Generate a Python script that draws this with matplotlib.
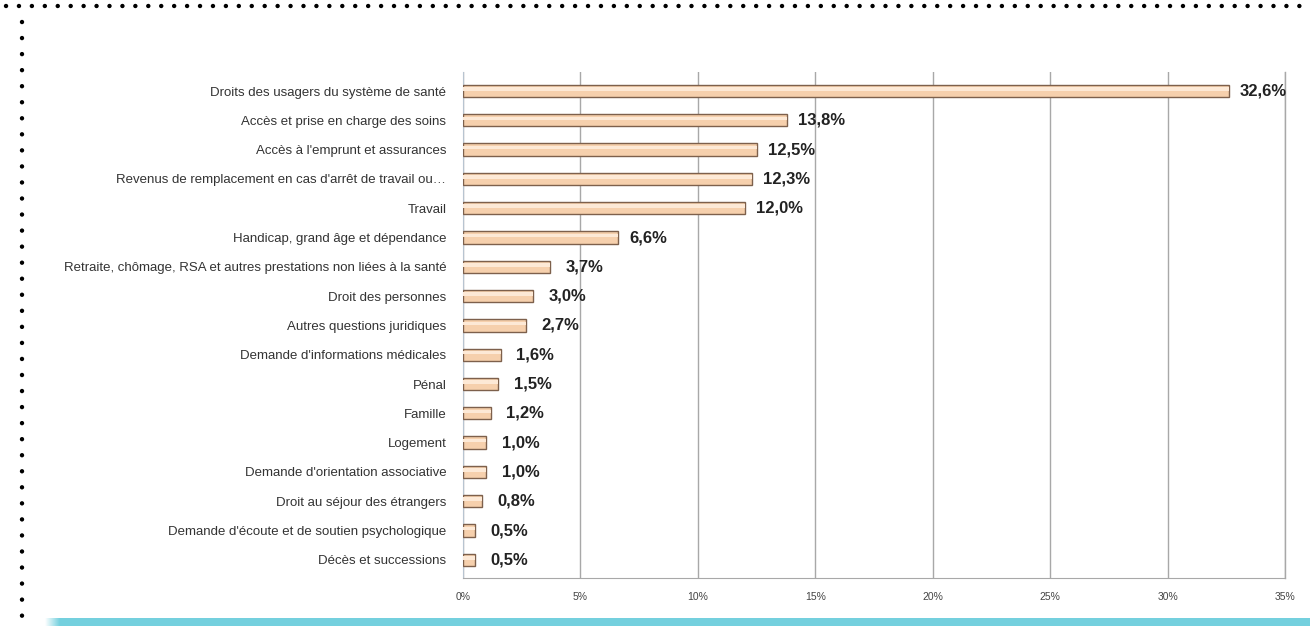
import numpy as np
import matplotlib.pyplot as plt
from matplotlib.lines import Line2D
from matplotlib.patches import Rectangle

# Données
categories = [
    "Droits des usagers du système de santé",
    "Accès et prise en charge des soins",
    "Accès à l'emprunt et assurances",
    "Revenus de remplacement en cas d'arrêt de travail ou…",
    "Travail",
    "Handicap, grand âge et dépendance",
    "Retraite, chômage, RSA et autres prestations non liées à la santé",
    "Droit des personnes",
    "Autres questions juridiques",
    "Demande d'informations médicales",
    "Pénal",
    "Famille",
    "Logement",
    "Demande d'orientation associative",
    "Droit au séjour des étrangers",
    "Demande d'écoute et de soutien psychologique",
    "Décès et successions",
]
valeurs = [32.6, 13.8, 12.5, 12.3, 12.0, 6.6, 3.7, 3.0, 2.7, 1.6, 1.5, 1.2, 1.0, 1.0, 0.8, 0.5, 0.5]
ticks = [0, 5, 10, 15, 20, 25, 30, 35]
tick_labels = ["0%", "5%", "10%", "15%", "20%", "25%", "30%", "35%"]

fig = plt.figure(figsize=(13.1, 6.26), dpi=100)
ax = fig.add_axes([463 / 1310, 1 - 578 / 626, (1285 - 463) / 1310, (578 - 72) / 626])

y = np.arange(len(categories))
# barre principale + reflet clair pour l'effet 3D
ax.barh(y, valeurs, height=0.42, color="#f6d0ad", edgecolor="#7d604c", linewidth=1.0, zorder=3)
ax.barh(y - 0.07, valeurs, height=0.12, color="#fde9d6", linewidth=0, zorder=4)

for yi, v in zip(y, valeurs):
    ax.annotate(f"{v:.1f}%".replace(".", ","), (v, yi), xytext=(8 if v > 5 else 11, 0),
                textcoords="offset points", va="center", ha="left",
                fontsize=12, fontweight="bold", color="#222222", family="Liberation Sans", zorder=5)

ax.set_xlim(0, 35)
ax.set_ylim(len(categories) - 0.38, -0.65)
ax.set_xticks(ticks)
ax.set_xticklabels(tick_labels, fontsize=7.5, color="#444444", family="Liberation Sans")
ax.set_yticks(y)
ax.set_yticklabels(categories, fontsize=9.5, color="#333333", family="Liberation Sans")
ax.tick_params(axis="x", length=0, pad=10)
ax.tick_params(axis="y", length=0, pad=12)
ax.xaxis.grid(True, color="#a8a8a8", linewidth=1.0, zorder=0)
ax.axvline(35, color="#a8a8a8", linewidth=1.0, clip_on=False, zorder=0)
ax.set_axisbelow(True)
for s in ["top", "right"]:
    ax.spines[s].set_visible(False)
ax.spines["left"].set_color("#b8c4d0")
ax.spines["bottom"].set_color("#a8a8a8")

# cadre pointillé
fig.add_artist(Line2D([6 / 1310, 1], [1 - 6 / 626, 1 - 6 / 626], color="black", linewidth=3.2,
                      linestyle=(0, (0.01, 2.9)), dash_capstyle="round"))
fig.add_artist(Line2D([22 / 1310, 22 / 1310], [1 - 22 / 626, 0], color="black", linewidth=3.2,
                      linestyle=(0, (0.01, 3.6)), dash_capstyle="round"))

# bandeau turquoise en bas
fig.add_artist(Rectangle((60 / 1310, 0), 1, 8 / 626, transform=fig.transFigure,
                         color="#74d0de", linewidth=0))
grad = np.linspace(0, 1, 50).reshape(1, -1)
gax = fig.add_axes([45 / 1310, 0, 15 / 1310, 8 / 626])
gax.imshow(grad, aspect="auto", cmap=plt.matplotlib.colors.LinearSegmentedColormap.from_list("g", ["white", "#74d0de"]))
gax.axis("off")

fig.savefig("out.png", dpi=100)
